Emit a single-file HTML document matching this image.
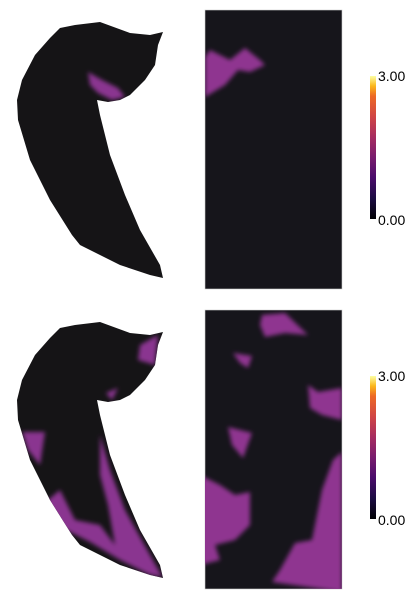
<!DOCTYPE html>
<html><head><meta charset="utf-8"><style>
html,body{margin:0;padding:0;background:#fff;width:410px;height:600px;overflow:hidden}
svg{display:block;overflow:hidden}
text{font-family:"Liberation Sans",sans-serif;font-size:14px;fill:#000}
</style></head><body>
<svg id="fig" width="410" height="600" viewBox="0 0 410 600">
<defs>
<filter id="blur" x="-20%" y="-20%" width="140%" height="140%"><feGaussianBlur stdDeviation="2.2"/></filter>
<linearGradient id="inferno" x1="0" y1="1" x2="0" y2="0">
<stop offset="0" stop-color="#000004"/><stop offset="0.14" stop-color="#1b0c41"/>
<stop offset="0.29" stop-color="#4a0c6b"/><stop offset="0.43" stop-color="#781c6d"/>
<stop offset="0.57" stop-color="#a52c60"/><stop offset="0.71" stop-color="#cf4446"/>
<stop offset="0.86" stop-color="#ed6925"/><stop offset="0.93" stop-color="#fbb61a"/>
<stop offset="1" stop-color="#fcffa4"/></linearGradient>
<clipPath id="c1"><rect x="205" y="10" width="137" height="279"/></clipPath>
<clipPath id="c2"><rect x="205" y="310" width="137" height="279"/></clipPath>
</defs>
</svg>
<script>
const NS='http://www.w3.org/2000/svg';
const svg=document.getElementById('fig');
const cbTicks=['3.00','0.00'];
const cbRange=[0,3];
const shape=[[60,28],[75,25],[100,22],[130,33],[150,35],[163,32],[158,45],[155,65],[145,80],[130,95],[120,100],[108,102],[97,100],[100,115],[110,155],[125,195],[140,230],[160,265],[163,278],[150,275],[120,265],[80,245],[72,235],[50,200],[30,160],[18,120],[17,100],[22,80],[35,55],[50,38]];
const topSurfBlobs=[[[88,72],[102,80],[118,88],[125,97],[112,100],[98,93],[90,85]]];
const botSurfBlobs=[[[140,345],[158,335],[155,365],[138,360]],[[106,393],[118,388],[112,400]],[[22,432],[45,432],[40,465],[28,450]],[[100,435],[110,470],[125,510],[150,555],[163,578],[140,565],[115,545],[108,505],[100,475]],[[48,500],[60,490],[75,520],[100,525],[115,545],[140,562],[163,577],[150,575],[120,560],[90,542],[60,527],[45,512]]];
const topFlatBlobs=[[[205,57],[210,50],[230,60],[245,48],[260,60],[265,65],[250,72],[238,70],[225,85],[205,97]]];
const botFlatBlobs=[[[262,315],[285,313],[308,335],[285,333],[265,337],[260,325]],[[233,353],[252,356],[248,368],[240,363]],[[308,385],[318,392],[342,388],[342,420],[322,415],[310,408]],[[228,427],[252,433],[243,458],[232,445]],[[342,452],[333,460],[322,490],[312,540],[295,543],[280,570],[272,582],[342,592]],[[200,475],[220,485],[235,495],[250,492],[250,525],[235,540],[215,545],[220,560],[200,565]]];
function el(t,a,p){const e=document.createElementNS(NS,t);for(const k in a)e.setAttribute(k,a[k]);(p||svg).appendChild(e);return e;}
function pts(a,dy){return a.map(p=>p[0]+','+(p[1]+(dy||0))).join(' ');}
// surfaces (blob coordinates are absolute)
[[0,topSurfBlobs,'top'],[300,botSurfBlobs,'bottom']].forEach(([dy,bl,nm])=>{
  const g=el('g',{});
  
  
  el('polygon',{points:pts(shape,dy),fill:'#151416'},g);
  const cp=el('clipPath',{id:'sc'+dy},svg.querySelector('defs'));
  el('polygon',{points:pts(shape,dy)},cp);
  const cg=el('g',{'clip-path':'url(#sc'+dy+')'},g);
  const bg=el('g',{filter:'url(#blur)'},cg);
  bl.forEach(b=>{const p=el('polygon',{points:pts(b,0),fill:'#8a3590'},bg);
    
    });
});
// flat maps
[[10,topFlatBlobs,'c1','top'],[310,botFlatBlobs,'c2','bottom']].forEach(([y,bl,c,nm])=>{
  const g=el('g',{});
  
  
  el('rect',{x:205,y:y,width:137,height:279,fill:'#16151b',stroke:'#ccc','stroke-width':0.6},g);
  const bg=el('g',{'clip-path':'url(#'+c+')'},g);
  const bb=el('g',{filter:'url(#blur)'},bg);
  bl.forEach(b=>{const p=el('polygon',{points:pts(b),fill:'#8f3590'},bb);
    
    });
});
// colorbars
[76,376].forEach((y0,i)=>{
  const h=143;
  const g=el('g',{});
  
  
  el('rect',{x:370,y:y0,width:6,height:h,fill:'url(#inferno)'},g);
  const yv=v=>y0+h-(v-cbRange[0])/(cbRange[1]-cbRange[0])*h;
  [cbRange[1],cbRange[0]].forEach((v,k)=>{
    const t=el('text',{x:378,y:yv(v)+(k?6:5)},g);t.textContent=cbTicks[k];
    
    
  });
});
</script>
</body></html>
